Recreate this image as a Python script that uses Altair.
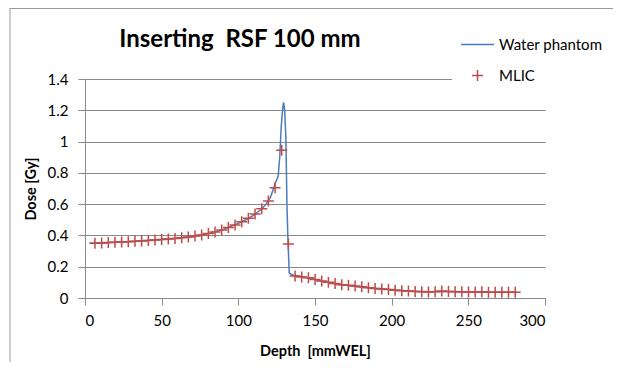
import altair as alt
import pandas as pd

# Water phantom curve (depth mm WEL, dose Gy)
wp_depth = [3, 10, 20, 30, 40, 50, 60, 70, 80, 90, 100, 105, 110, 115, 118, 121,
            124, 126, 127, 128, 129, 129.6, 130.2, 131, 131.7, 132.3, 133.2, 135,
            140, 145, 150, 155, 160, 165, 170, 175, 180, 185, 190, 195, 200, 205,
            210, 215, 220, 225, 230, 235, 240, 245, 250, 255, 260, 265, 270, 275, 282]
wp_dose = [0.350, 0.352, 0.356, 0.361, 0.367, 0.374, 0.382, 0.393, 0.410, 0.437,
           0.477, 0.500, 0.530, 0.567, 0.600, 0.645, 0.730, 0.780, 0.900, 1.100,
           1.220, 1.250, 1.200, 1.030, 0.600, 0.390, 0.160, 0.148, 0.138, 0.130,
           0.118, 0.106, 0.096, 0.088, 0.082, 0.076, 0.071, 0.066, 0.061, 0.057,
           0.053, 0.049, 0.046, 0.043, 0.041, 0.040, 0.041, 0.042, 0.041, 0.040,
           0.039, 0.039, 0.039, 0.037, 0.036, 0.036, 0.036]

# MLIC measurements
mlic_depth = [6.5, 10.85, 15.2, 19.55, 23.9, 28.25, 32.6, 36.95, 41.3, 45.65,
              50.0, 54.35, 58.7, 63.05, 67.4, 71.75, 76.1, 80.45, 84.8, 89.15,
              93.5, 97.85, 102.2, 106.55, 110.9, 115.25, 119.6, 123.95, 128.3, 132.65,
              137.0, 141.35, 145.7, 150.05, 154.4, 158.75, 163.1, 167.45, 171.8, 176.15,
              180.5, 184.85, 189.2, 193.55, 197.9, 202.25, 206.6, 210.95, 215.3, 219.65,
              224.0, 228.35, 232.7, 237.05, 241.4, 245.75, 250.1, 254.45, 258.8, 263.15,
              267.5, 271.85, 276.2, 280.55]
mlic_dose = [0.350, 0.352, 0.354, 0.356, 0.358, 0.360, 0.362, 0.365, 0.368, 0.371,
             0.374, 0.377, 0.381, 0.385, 0.390, 0.396, 0.403, 0.412, 0.422, 0.435,
             0.450, 0.467, 0.487, 0.510, 0.537, 0.570, 0.620, 0.705, 0.945, 0.345,
             0.140, 0.134, 0.130, 0.118, 0.108, 0.100, 0.092, 0.084, 0.082, 0.076,
             0.072, 0.066, 0.061, 0.058, 0.054, 0.050, 0.047, 0.045, 0.042, 0.040,
             0.039, 0.040, 0.044, 0.041, 0.040, 0.040, 0.038, 0.039, 0.040, 0.036,
             0.036, 0.036, 0.036, 0.036]

series_names = ["Water phantom", "MLIC"]
series_colors = ["#4A7EBB", "#BE4B48"]
title_text = "Inserting\u00a0 RSF 100 mm"
CROSS = "M-1,0L1,0M0,-1L0,1"

wp_df = pd.DataFrame({"depth": wp_depth, "dose": wp_dose, "series": "Water phantom"})
ml_df = pd.DataFrame({"depth": mlic_depth, "dose": mlic_dose, "series": "MLIC"})

FONT = "Lato"
GRAY = "#8A8A8A"

x_enc = alt.X("depth:Q", scale=alt.Scale(domain=[0, 300], nice=False),
              axis=alt.Axis(title="Depth\u00a0 [mmWEL]", values=[0, 50, 100, 150, 200, 250, 300],
                            grid=False, tickSize=7, labelPadding=8, titlePadding=16))
y_enc = alt.Y("dose:Q", scale=alt.Scale(domain=[0, 1.4], nice=False),
              axis=alt.Axis(title="Dose [Gy]", values=[0, 0.2, 0.4, 0.6, 0.8, 1.0, 1.2, 1.4],
                            format=".1~f", grid=True, tickSize=7, labelPadding=10, titlePadding=9))


def legend():
    return alt.Legend(title=None, orient="none", legendX=367, legendY=-60,
                      fillColor="white", padding=8, labelFontSize=15,
                      labelFont=FONT, labelColor="#000000",
                      symbolStrokeWidth=1.5, labelOffset=4, rowPadding=14)


color = alt.Color("series:N", scale=alt.Scale(domain=series_names, range=series_colors),
                  legend=legend())
shape = alt.Shape("series:N", scale=alt.Scale(domain=series_names, range=["stroke", CROSS]),
                  legend=legend())
size = alt.Size("series:N", scale=alt.Scale(domain=series_names, range=[1089, 121]),
                legend=legend())

line = alt.Chart(wp_df).mark_line(strokeWidth=1.5).encode(
    x=x_enc, y=y_enc, color=color)
points = alt.Chart(ml_df).mark_point(filled=False, strokeWidth=1.5, opacity=1).encode(
    x=x_enc, y=y_enc, color=color, shape=shape, size=size)

frame_df = pd.DataFrame({"k": [0]})
top_border = alt.Chart(frame_df).mark_rule(color="#9A9A9A", strokeWidth=1).encode(
    x=alt.value(-75), x2=alt.value(530), y=alt.value(-70.5))
left_border = alt.Chart(frame_df).mark_rule(color="#9A9A9A", strokeWidth=1).encode(
    x=alt.value(-75), y=alt.value(-71), y2=alt.value(290))
title = alt.Chart(frame_df).mark_text(
    font=FONT, fontSize=24, fontWeight="bold", color="#000000",
    align="center", baseline="alphabetic").encode(
    text=alt.value(title_text), x=alt.value(155), y=alt.value(-32))

chart = alt.layer(top_border, left_border, title, line, points).properties(
    width=460, height=219,
    padding={"left": 77, "top": 71, "right": 68, "bottom": 64},
    autosize=alt.AutoSizeParams(type="none"),
).configure_view(stroke=None).configure_axis(
    labelFont=FONT, labelFontSize=15, labelColor="#000000",
    titleFont=FONT, titleFontSize=14.5, titleFontWeight="bold", titleColor="#000000",
    domainColor=GRAY, tickColor=GRAY, gridColor=GRAY, gridOpacity=1,
    domainWidth=1, gridWidth=1, tickWidth=1,
).configure_legend(orient="none")

chart.save("out.html", embed_options={"renderer": "svg", "actions": False})
